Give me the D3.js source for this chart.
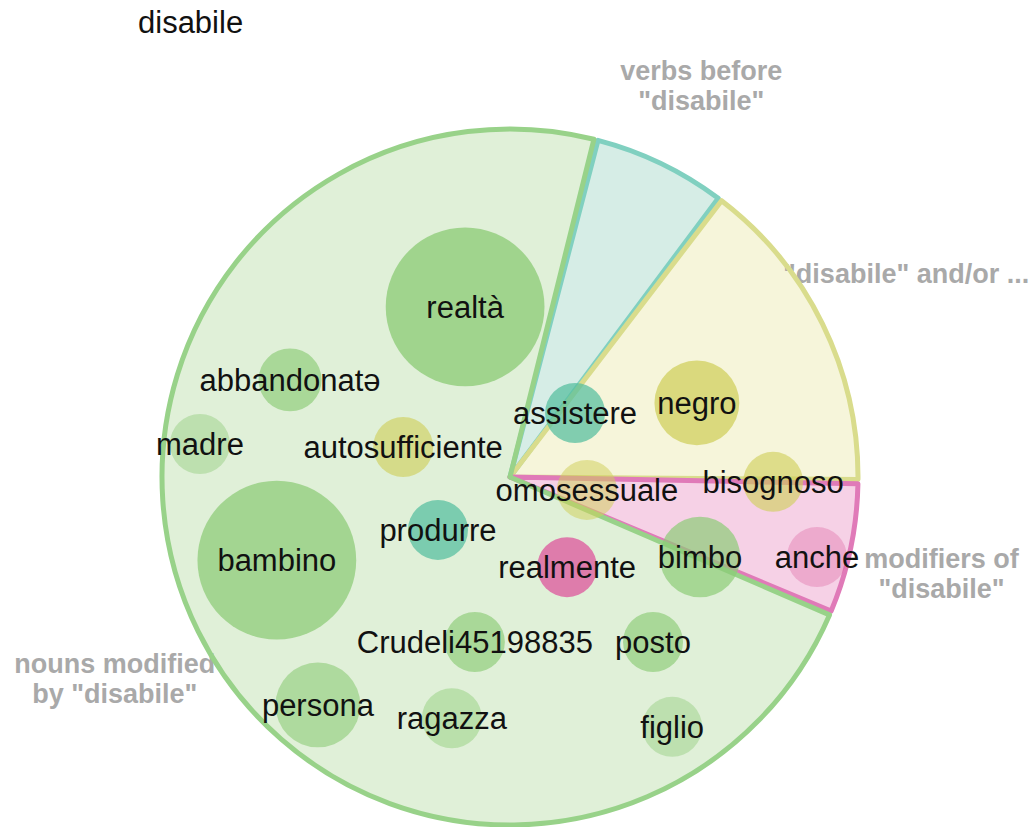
<!DOCTYPE html>
<html>
<head>
<meta charset="utf-8">
<script src="https://cdn.jsdelivr.net/npm/d3@7/dist/d3.min.js"></script>
<style>
  html, body { margin: 0; padding: 0; background: #fff; }
  svg { display: block; font-family: "Liberation Sans", Arial, Helvetica, sans-serif; }
</style>
</head>
<body>
<svg id="chart" width="1035" height="827"></svg>
<script>
// ---- data ----
const title = "disabile";
const categories = ["verbs", "andor", "modifiers", "nouns"];
const categoryLabels = [
  ["verbs before", "\"disabile\""],
  ["\"disabile\" and/or ..."],
  ["modifiers of", "\"disabile\""],
  ["nouns modified", "by \"disabile\""]
];
const categoryShares = [6.19, 14.83, 6.03, 72.95]; // percent of pie
const pieStartDeg = 14.3;

const words = ["realtà", "abbandonatə", "madre", "autosufficiente", "bambino", "produrre",
  "assistere", "negro", "omosessuale", "bisognoso", "realmente", "bimbo", "anche",
  "Crudeli45198835", "posto", "persona", "ragazza", "figlio"];
const wordCategory = ["nouns", "nouns", "nouns", "andor", "nouns", "verbs",
  "verbs", "andor", "andor", "andor", "modifiers", "nouns", "modifiers",
  "nouns", "nouns", "nouns", "nouns", "nouns"];
const wordCount = [7, 1.1, 1, 1, 7, 1, 1, 2, 1, 1, 1, 1.8, 1, 1, 1, 2, 1, 1];
// association strength (shown as bubble intensity)
const wordStrength = [0.95, 0.8, 0.45, 0.75, 0.9, 0.9, 0.9, 0.9, 0.6, 0.75, 1.0, 0.85, 0.35,
  0.8, 0.8, 0.7, 0.5, 0.45];
// positions in units of the pie radius, relative to the pie centre
const wordX = [-0.129, -0.632, -0.891, -0.307, -0.670, -0.207, 0.187, 0.537, 0.221, 0.756,
  0.164, 0.546, 0.882, -0.101, 0.411, -0.552, -0.167, 0.466];
const wordY = [-0.489, -0.279, -0.095, -0.086, 0.239, 0.152, -0.184, -0.213, 0.037, 0.014,
  0.259, 0.230, 0.230, 0.474, 0.474, 0.655, 0.693, 0.718];

// ---- styles ----
const sliceFill = { verbs: "#d6ede6", andor: "#f6f5da", modifiers: "#f6d1e6", nouns: "#e0f0d8" };
const sliceStroke = { verbs: "#80d0c0", andor: "#d9dc8c", modifiers: "#e07ab8", nouns: "#98d289" };
const bubbleFill = { verbs: "#55bf9f", andor: "#cfcf5a", modifiers: "#dd5fa0", nouns: "#8ccb76" };

const cx = 510, cy = 477, R = 348, labelR = 441;

const svg = d3.select("#chart");

svg.append("text").attr("x", 138).attr("y", 33)
  .attr("font-size", 31).attr("fill", "#111").text(title);

const g = svg.append("g").attr("transform", `translate(${cx},${cy})`);

const pie = d3.pie().sort(null).value(d => d.share)
  .startAngle(pieStartDeg * Math.PI / 180)
  .endAngle(pieStartDeg * Math.PI / 180 + 2 * Math.PI)
  .padAngle(0.012);
const slices = pie(categories.map((c, i) => ({ cat: c, share: categoryShares[i], lines: categoryLabels[i] })));
const arc = d3.arc().innerRadius(0).outerRadius(R).padRadius(R);
const labelArc = d3.arc().innerRadius(labelR).outerRadius(labelR);

// fills
g.selectAll("path.fill").data(slices).join("path")
  .attr("class", "fill").attr("d", arc)
  .attr("fill", d => sliceFill[d.data.cat]);

// category labels
const lab = g.selectAll("text.cat").data(slices).join("text")
  .attr("class", "cat")
  .attr("transform", d => `translate(${labelArc.centroid(d)})`)
  .attr("text-anchor", "middle")
  .attr("font-size", 27).attr("font-weight", "bold").attr("fill", "#a9a9a9");
lab.selectAll("tspan").data(d => d.data.lines).join("tspan")
  .attr("x", 0).attr("dy", (d, i) => i === 0 ? 0 : 30).text(d => d);

// strokes
g.selectAll("path.stroke").data(slices).join("path")
  .attr("class", "stroke").attr("d", arc)
  .attr("fill", "none")
  .attr("stroke", d => sliceStroke[d.data.cat])
  .attr("stroke-width", 5).attr("stroke-linejoin", "round");

// bubbles
const x = d3.scaleLinear().domain([-1, 1]).range([-R, R]);
const y = d3.scaleLinear().domain([-1, 1]).range([-R, R]);
const r = d3.scaleSqrt().domain([0, 1]).range([0, 30]);
const op = d3.scaleLinear().domain([0, 1]).range([0.1, 0.8]);
const wd = words.map((w, i) => ({ w, cat: wordCategory[i], n: wordCount[i], s: wordStrength[i], x: wordX[i], y: wordY[i] }));

g.selectAll("circle.bubble").data(wd).join("circle")
  .attr("class", "bubble")
  .attr("cx", d => x(d.x)).attr("cy", d => y(d.y)).attr("r", d => r(d.n))
  .attr("fill", d => bubbleFill[d.cat]).attr("fill-opacity", d => op(d.s));

g.selectAll("text.word").data(wd).join("text")
  .attr("class", "word")
  .attr("x", d => x(d.x)).attr("y", d => y(d.y)).attr("dy", "0.35em")
  .attr("text-anchor", "middle").attr("font-size", 31).attr("fill", "#111")
  .text(d => d.w);
</script>
</body>
</html>
